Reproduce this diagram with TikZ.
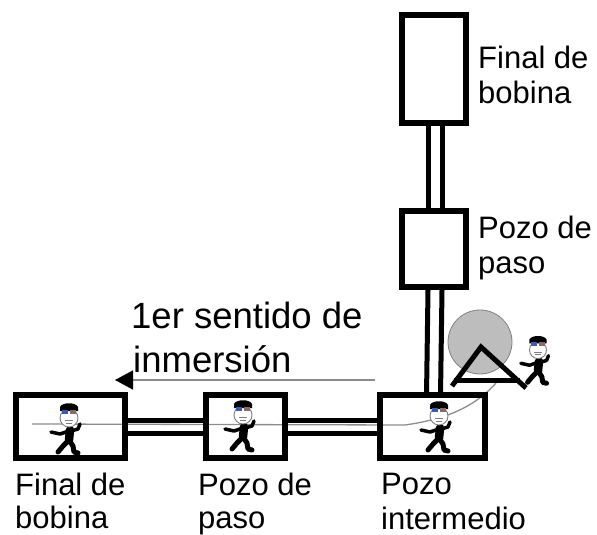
\documentclass[tikz,border=0pt]{standalone}
\usepackage{fontspec}
\setmainfont{Liberation Sans}
\usetikzlibrary{arrows.meta}
\definecolor{cablegray}{HTML}{8C8C8C}
\definecolor{reelgray}{HTML}{BDBDBD}
\definecolor{goggle}{HTML}{3A5BB0}
\begin{document}
\begin{tikzpicture}[x=1pt,y=-1pt,
  shaft/.style={draw=black,line width=6pt,rectangle,inner sep=0pt},
  duct/.style={draw=black,line width=5pt},
  cable/.style={draw=cablegray,line width=1.3pt},
  lbl/.style={font=\fontsize{31}{36}\selectfont,anchor=base west,inner sep=0pt},
  biglbl/.style={font=\fontsize{36.5}{43}\selectfont,anchor=base west,inner sep=0pt},
  worker/.pic={
    % legs
    \draw[black,line width=5pt,line cap=round,line join=round]
      (0,22) -- (-6,28) -- (-11,34);
    \draw[black,line width=5pt,line cap=round,line join=round]
      (0,22) -- (4,28) -- (5,34) -- (9,35);
    % torso
    \draw[black,line width=8.5pt,line cap=round] (1,12) -- (0,22);
    % arms
    \draw[black,line width=3.5pt,line cap=round,line join=round]
      (0,13) -- (-9,16) -- (-18,14);
    \draw[black,line width=3.5pt,line cap=round,line join=round]
      (2,13) -- (9,11) -- (11,6);
    % head and face
    \filldraw[fill=white,draw=gray,line width=0.9pt] (0,0) circle (9);
    \draw[gray,line width=0.6pt] (-4,2) -- (4,2) (-3,5) -- (3,5);
    % cap and goggles
    \fill[black] (-9,-7) -- (-9,-11) .. controls (-7,-16) and (7,-16) .. (9,-11) -- (9,-7) -- cycle;
    \fill[goggle] (-7,-8) rectangle (-1,-4.5);
    \fill[goggle!60!orange] (1,-8) rectangle (7,-4.5);
  }]
\useasboundingbox (0,0) rectangle (597,535);

% cable laid through the ducts, pulled from the reel
\coordinate (cabletail) at (32,424);
\coordinate (cablebend) at (405,425);
\coordinate (reelin) at (496,383);
\draw[cable] (cabletail) -- (cablebend)
  .. controls (440,420) and (472,410) .. (reelin);

% shafts
\node[shaft,minimum width=64pt,minimum height=108pt] (topend) at (434,69) {};
\node[shaft,minimum width=64pt,minimum height=76pt] (toppass) at (434,249) {};
\node[shaft,minimum width=109pt,minimum height=63pt] (leftend) at (70.5,426.5) {};
\node[shaft,minimum width=79pt,minimum height=63pt] (leftpass) at (245.5,426.5) {};
\node[shaft,minimum width=105pt,minimum height=63pt] (mid) at (432.5,426.5) {};

% ducts between shafts
\foreach \dx in {-6,8} {
  \draw[duct] ([xshift=\dx pt,yshift=4pt]topend.south) -- ([xshift=\dx pt]toppass.north);
  \draw[duct] ([xshift=\dx pt]toppass.south) -- ([xshift=\dx pt,yshift=-4pt]mid.north);
}
\foreach \dy in {-6.5,6.5} {
  \draw[duct] ([yshift=\dy pt]leftend.east) -- ([yshift=\dy pt]leftpass.west);
  \draw[duct] ([yshift=\dy pt]leftpass.east) -- ([yshift=\dy pt]mid.west);
}

% cable reel on its stand
\node[circle,fill=reelgray,draw=gray,line width=0.8pt,minimum size=64pt,inner sep=0pt] (reel) at (480,342) {};
\draw[black,line width=5pt,line join=miter] (452,386) -- (481,347) -- (526,388);
\draw[black,line width=5pt] (454,380) -- (520,380);

% workers
\pic at (69,418) {worker};
\pic at (243,415) {worker};
\pic at (439,416) {worker};
\pic[scale=0.95] at (538,350) {worker};

% laying direction
\coordinate (dirstart) at (375,380);
\coordinate (dirend) at (115,380);
\draw[cablegray,line width=1.5pt,-{Triangle[length=18pt,width=19pt,black]}] (dirstart) -- (dirend);
\node[biglbl] (dir1) at (131,328) {1er sentido de};
\node[biglbl] (dir2) at (133,372) {inmersión};

% labels
\node[lbl] (t1) at (478,68) {Final de};
\node[lbl] (t2) at (478,103) {bobina};
\node[lbl] (t3) at (478,238) {Pozo de};
\node[lbl] (t4) at (478,273) {paso};
\node[lbl] (b1) at (15,495) {Final de};
\node[lbl] (b2) at (15,528) {bobina};
\node[lbl] (b3) at (198,495) {Pozo de};
\node[lbl] (b4) at (198,528) {paso};
\node[lbl] (b5) at (381,494) {Pozo};
\node[lbl] (b6) at (381,529) {intermedio};
\end{tikzpicture}
\end{document}
